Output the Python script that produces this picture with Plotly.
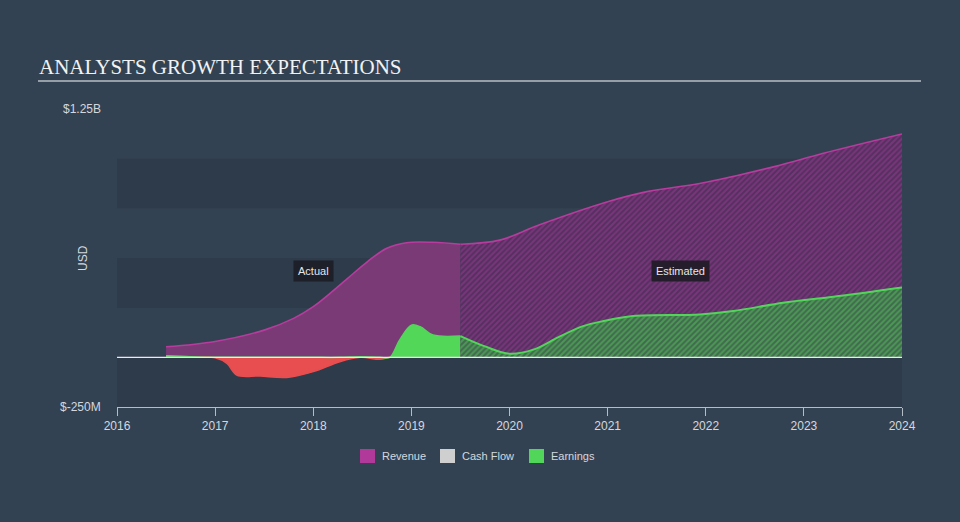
import plotly.graph_objects as go
import numpy as np

# ---- data (USD millions) ----
rev_act_x = [2016.5, 2017.0, 2017.5, 2017.8, 2018.0, 2018.33, 2018.55, 2018.75, 2018.95, 2019.22, 2019.5]
rev_act_y = [53, 80, 137, 196, 255, 389, 481, 549, 577, 579, 569]
rev_est_x = [2019.5, 2019.9, 2020.3, 2021.0, 2021.4, 2021.95, 2022.7, 2023.2, 2024.0]
rev_est_y = [569, 590, 666, 783, 834, 876, 960, 1027, 1124]

earn_act_x = [2016.5, 2016.75, 2017.0, 2017.12, 2017.22, 2017.46, 2017.73, 2018.0, 2018.27, 2018.48,
              2018.68, 2018.78, 2018.88, 2019.0, 2019.09, 2019.22, 2019.5]
earn_act_y = [8, 3, -2, -30, -89, -94, -101, -72, -22, 3, -10, 0, 87, 162, 154, 112, 107]
earn_est_x = [2019.5, 2019.75, 2020.0, 2020.25, 2020.5, 2020.75, 2020.95, 2021.26, 2021.94, 2022.28,
              2022.79, 2023.3, 2024.0]
earn_est_y = [107, 55, 18, 40, 102, 157, 182, 208, 216, 233, 275, 305, 352]

x_ticks = [2016, 2017, 2018, 2019, 2020, 2021, 2022, 2023, 2024]
y_range = [-250, 1250]
y_labels = ["$-250M", "$1.25B"]
legend_names = ["Revenue", "Cash Flow", "Earnings"]
legend_colors = ["#b0399a", "#cfcfcf", "#52d65a"]

BG = "#334252"
BAND = "#2d3b4a"
FONT = "Liberation Sans, Arial, sans-serif"
TXT = "#d3d8de"

# pixel -> paper helpers (plot area x 117..902, y 109..407)
def px(x):
    return (x - 117) / 785.0

def py(y):
    return (407 - y) / 298.0

fig = go.Figure()

fig.add_trace(go.Scatter(x=rev_act_x, y=rev_act_y, mode="lines", line=dict(color="#b73c9e", width=1.6, shape="spline"),
                         fill="tozeroy", fillcolor="#7a3a76", showlegend=False, hoverinfo="skip"))
fig.add_trace(go.Scatter(x=rev_est_x, y=rev_est_y, mode="lines", line=dict(color="#b73c9e", width=1.6, shape="spline"),
                         fill="tozeroy", fillcolor="#553060",
                         fillpattern=dict(shape="/", bgcolor="#553060", fgcolor="#9c3b94", size=4, solidity=0.5),
                         showlegend=False, hoverinfo="skip"))

ea = np.array(earn_act_y, dtype=float)
fig.add_trace(go.Scatter(x=earn_act_x, y=np.minimum(ea, 0), mode="lines",
                         line=dict(color="#e84d4f", width=1.5, shape="spline"),
                         fill="tozeroy", fillcolor="#e84d4f", showlegend=False, hoverinfo="skip"))
fig.add_trace(go.Scatter(x=earn_act_x, y=np.maximum(ea, 0), mode="lines",
                         line=dict(color="#52d65a", width=1.5, shape="spline"),
                         fill="tozeroy", fillcolor="#53d758", showlegend=False, hoverinfo="skip"))
fig.add_trace(go.Scatter(x=earn_est_x, y=earn_est_y, mode="lines", line=dict(color="#52d65a", width=2, shape="spline"),
                         fill="tozeroy", fillcolor="#416a4e",
                         fillpattern=dict(shape="/", bgcolor="#416a4e", fgcolor="#58c65d", size=4, solidity=0.5),
                         showlegend=False, hoverinfo="skip"))

shapes = []
for y0, y1 in [(750, 1000), (250, 500), (-250, 0)]:
    shapes.append(dict(type="rect", xref="paper", yref="y", x0=0, x1=1, y0=y0, y1=y1,
                       fillcolor=BAND, line=dict(width=0), layer="below"))
shapes.append(dict(type="line", xref="paper", yref="y", x0=0, x1=1, y0=0, y1=0,
                   line=dict(color="#f4e6ee", width=1.2), layer="above"))
shapes.append(dict(type="line", xref="paper", yref="paper", x0=px(38), x1=px(921), y0=py(81), y1=py(81),
                   line=dict(color="#b8bec6", width=1.5)))

annotations = [
    dict(text="ANALYSTS GROWTH EXPECTATIONS", xref="paper", yref="paper", x=px(37), y=py(67),
         xanchor="left", yanchor="middle", showarrow=False,
         font=dict(family="Liberation Serif, Times New Roman, serif", size=21, color="#f0f2f4")),
    dict(text=y_labels[1], xref="paper", yref="y", x=px(103), y=y_range[1], xanchor="right", yanchor="middle",
         showarrow=False, font=dict(family=FONT, size=12, color=TXT)),
    dict(text=y_labels[0], xref="paper", yref="y", x=px(103), y=y_range[0], xanchor="right", yanchor="middle",
         showarrow=False, font=dict(family=FONT, size=12, color=TXT)),
    dict(text="USD", xref="paper", yref="paper", x=px(83), y=0.5, xanchor="center", yanchor="middle",
         textangle=-90, showarrow=False, font=dict(family=FONT, size=12, color=TXT)),
    dict(text="Actual", x=2018.0, y=434, xref="x", yref="y", showarrow=False, bgcolor="#1d1f29",
         borderpad=4, font=dict(family=FONT, size=11, color="#e6e6e6")),
    dict(text="Estimated", x=2021.74, y=434, xref="x", yref="y", showarrow=False, bgcolor="#261d2c",
         borderpad=4, font=dict(family=FONT, size=11, color="#e6e6e6")),
]

# custom legend
leg_sq_x = [360, 440, 529]
for n, c, sx in zip(legend_names, legend_colors, leg_sq_x):
    shapes.append(dict(type="rect", xref="paper", yref="paper", x0=px(sx), x1=px(sx + 15),
                       y0=py(463), y1=py(449), fillcolor=c, line=dict(width=0)))
    annotations.append(dict(text=n, xref="paper", yref="paper", x=px(sx + 20), y=py(456),
                            xanchor="left", yanchor="middle", showarrow=False,
                            font=dict(family=FONT, size=11, color=TXT)))

fig.update_layout(
    width=960, height=522,
    margin=dict(l=117, r=58, t=109, b=115),
    paper_bgcolor=BG, plot_bgcolor=BG,
    font=dict(family=FONT, color=TXT),
    shapes=shapes, annotations=annotations,
    showlegend=False,
    xaxis=dict(range=[2016, 2024], tickvals=x_ticks, ticktext=[str(t) for t in x_ticks],
               showgrid=False, zeroline=False, showline=True, linecolor="#b4bcc6", linewidth=1,
               ticks="outside", ticklen=8, tickcolor="#b4bcc6", tickfont=dict(size=12, color=TXT)),
    yaxis=dict(range=y_range, showgrid=False, zeroline=False, showticklabels=False, showline=False),
    hovermode=False,
)

fig.write_html("out.html")
